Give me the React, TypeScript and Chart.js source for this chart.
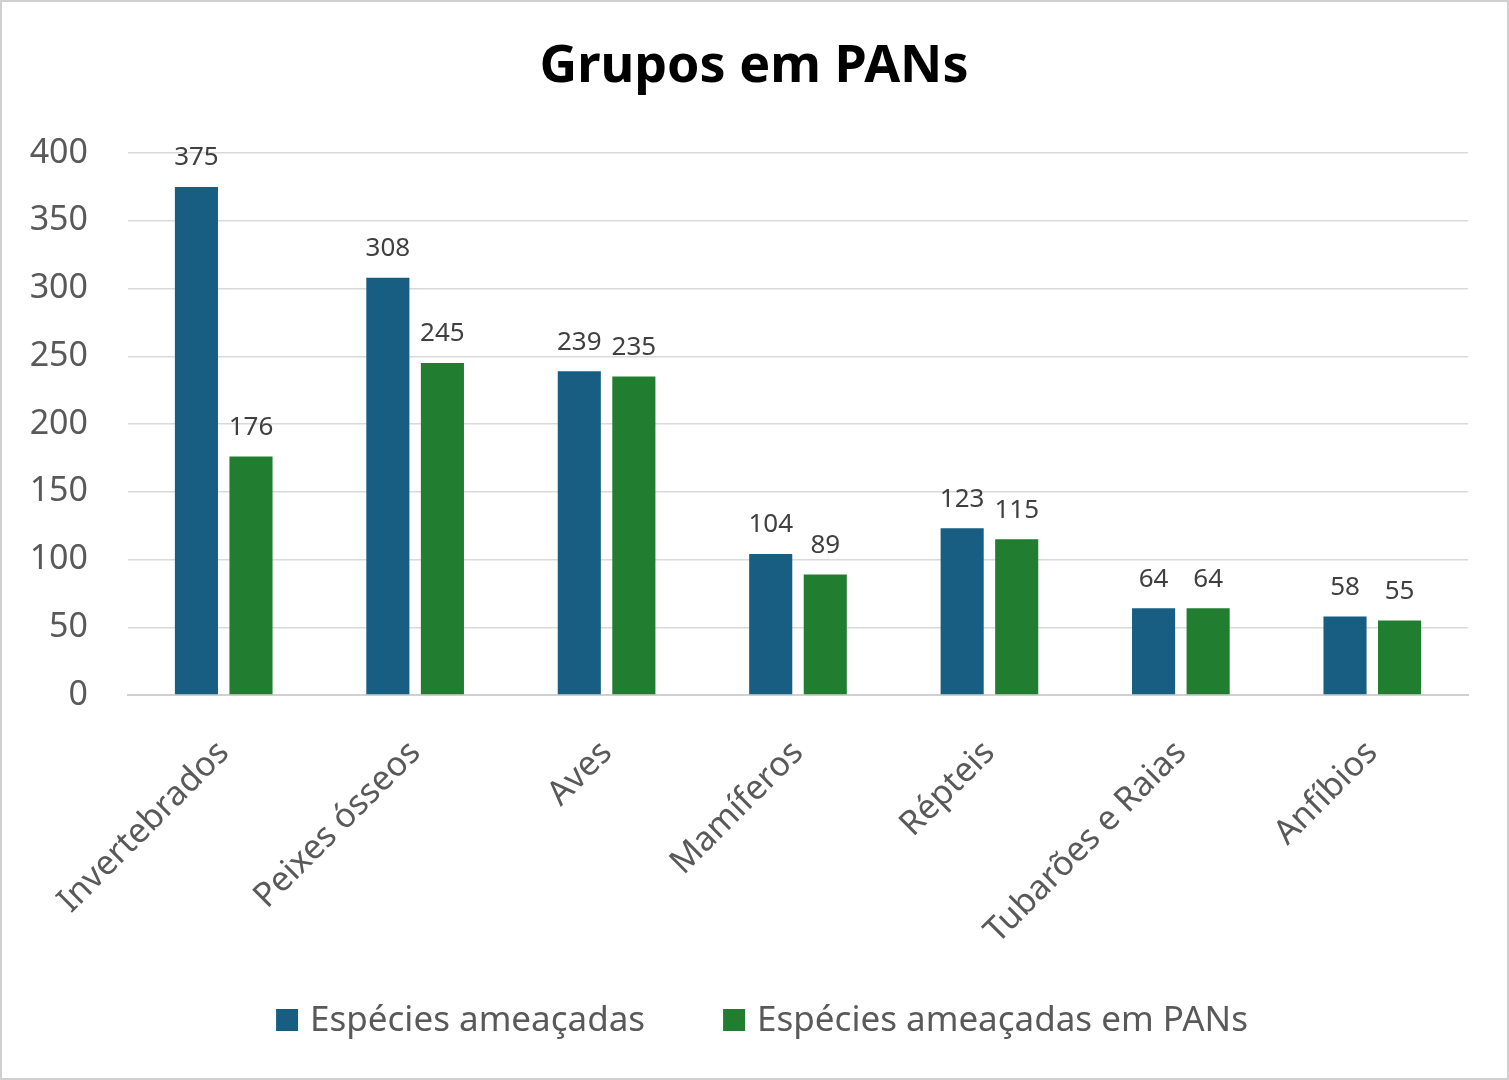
import React, { useEffect, useRef } from "react";
import { Chart, registerables } from "chart.js";
Chart.register(...registerables);

const categories = ["Invertebrados", "Peixes ósseos", "Aves", "Mamíferos", "Répteis", "Tubarões e Raias", "Anfíbios"];
const ameacadas = [375, 308, 239, 104, 123, 64, 58];
const emPANs = [176, 245, 235, 89, 115, 64, 55];
const seriesNames = ["Espécies ameaçadas", "Espécies ameaçadas em PANs"];
const colors = ["#175E82", "#217E30"];
const FONT = "'Noto Sans', 'Open Sans', sans-serif";

const overlay = {
  id: "overlay",
  afterDatasetsDraw(chart: any) {
    const ctx = chart.ctx;
    ctx.save();
    ctx.font = `26px ${FONT}`;
    ctx.fillStyle = "#404040";
    ctx.textAlign = "center";
    ctx.textBaseline = "bottom";
    chart.data.datasets.forEach((ds: any, i: number) => {
      chart.getDatasetMeta(i).data.forEach((el: any, j: number) => {
        ctx.fillText(String(ds.data[j]), el.x, el.y - 16);
      });
    });
    // title
    ctx.font = `bold 52px ${FONT}`;
    ctx.fillStyle = "#000";
    ctx.textBaseline = "middle";
    ctx.fillText("Grupos em PANs", 754, 67);
    // legend
    ctx.font = `35px ${FONT}`;
    ctx.textAlign = "left";
    const box = 22, gapBox = 12, gapItem = 78;
    const w = seriesNames.map((n) => ctx.measureText(n).width);
    const total = w[0] + w[1] + 2 * (box + gapBox) + gapItem;
    let x = 762 - total / 2;
    const y = 1020;
    seriesNames.forEach((n, i) => {
      ctx.fillStyle = colors[i];
      ctx.fillRect(x, y - box / 2, box, box);
      ctx.fillStyle = "#595959";
      ctx.fillText(n, x + box + gapBox, y + 1);
      x += box + gapBox + w[i] + gapItem;
    });
    // border
    ctx.strokeStyle = "#d0d0d0";
    ctx.lineWidth = 2;
    ctx.strokeRect(1, 1, chart.width - 2, chart.height - 2);
    ctx.restore();
  },
};

export default function App() {
  const ref = useRef<HTMLCanvasElement>(null);
  useEffect(() => {
    document.body.style.margin = "0";
    const chart = new Chart(ref.current!, {
      type: "bar",
      data: {
        labels: categories,
        datasets: [
          { label: seriesNames[0], data: ameacadas, backgroundColor: colors[0] },
          { label: seriesNames[1], data: emPANs, backgroundColor: colors[1] },
        ],
      },
      options: {
        animation: false,
        responsive: false,
        devicePixelRatio: 1,
        layout: { padding: { top: 153, right: 41, bottom: 85, left: 0 } },
        datasets: { bar: { categoryPercentage: 0.57, barPercentage: 0.79 } },
        plugins: { legend: { display: false }, title: { display: false }, tooltip: { enabled: false } },
        scales: {
          x: {
            grid: { display: false },
            border: { color: "#d0d0d0", width: 2 },
            ticks: { minRotation: 45, maxRotation: 45, padding: 30, color: "#595959", font: { size: 34, family: FONT } },
            afterFit: (s: any) => { s.height = 300; },
          },
          y: {
            min: 0, max: 400,
            grid: { color: "#d9d9d9", lineWidth: 1.5, drawTicks: false },
            border: { display: false },
            ticks: { stepSize: 50, padding: 40, color: "#595959", font: { size: 34, family: FONT } },
            afterFit: (s: any) => { s.width = 128; },
          },
        },
      },
      plugins: [overlay],
    });
    return () => chart.destroy();
  }, []);
  return <canvas ref={ref} width={1509} height={1080} style={{ display: "block" }} />;
}
